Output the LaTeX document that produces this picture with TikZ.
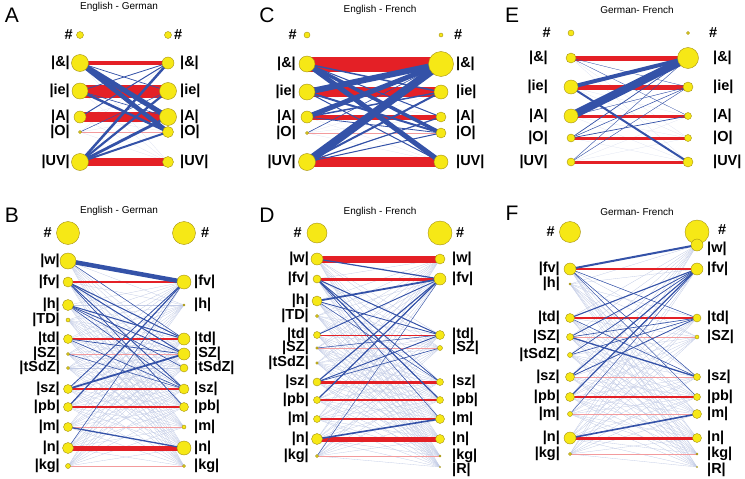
\documentclass[tikz,border=0pt]{standalone}
\usepackage{fontspec}
\setmainfont{Liberation Sans}
\definecolor{tiered}{RGB}{228,32,38}
\definecolor{tieblue}{RGB}{52,82,168}
\definecolor{dotyellow}{RGB}{246,232,22}
\definecolor{dotedge}{RGB}{165,145,20}
\usetikzlibrary{backgrounds}

\begin{document}
\begin{tikzpicture}[x=1pt, y=-1pt,
    dot/.style={circle, draw=dotedge, line width=0.4pt, fill=dotyellow, inner sep=0pt, minimum size=#1},
    phon/.style={font=\fontsize{14.5}{15}\selectfont\bfseries, inner sep=0pt},
    title/.style={font=\fontsize{10}{12}\selectfont},
    panel/.style={font=\fontsize{21}{22}\selectfont},
    tie/.style={draw=tiered, line width=#1},
    faded/.style={draw=tiered!45, line width=#1},
    cross/.style={draw=tieblue, line width=#1},
    mesh/.style={draw=tieblue!30, line width=0.3pt}
]
    \useasboundingbox (0,0) rectangle (745,479);

    % ---------- A: English - German (vowels)
    \node[panel] (pA) at (12,15) {A};
    \node[title] (tA) at (119,7) {English - German};
    \node[dot=7] (A-l-hash) at (80,35) {};
    \node[dot=7] (A-r-hash) at (168,35) {};
    \node[phon, anchor=east] (A-lt-hash) at (73,35) {\#};
    \node[phon, anchor=west] (A-rt-hash) at (174,35) {\#};
    \foreach \n/\y/\d/\t in {amp/63/17/|\&|, ie/91/16/|ie|, A/117/12/|A|, O/132/3/|O|, UV/162/17/|UV|} {
        \node[dot=\d] (A-l-\n) at (80,\y) {};
        \node[phon, anchor=east] (A-lt-\n) at (70,\y) {\t};
    }
    \foreach \n/\y/\d/\t in {amp/63/12/|\&|, ie/91/17/|ie|, A/117/17/|A|, O/132/11/|O|, UV/162/11/|UV|} {
        \node[dot=\d] (A-r-\n) at (168,\y) {};
        \node[phon, anchor=west] (A-rt-\n) at (180,\y) {\t};
    }
    \begin{scope}[on background layer]
        \foreach \a in {amp,ie,A,O,UV}
            \foreach \b in {amp,ie,A,O,UV}
                \draw[mesh, draw=tieblue!15] (A-l-\a.center) -- (A-r-\b.center);
        \foreach \a/\w in {amp/4, ie/13, A/10, UV/8}
            \draw[tie=\w] (A-l-\a.center) -- (A-r-\a.center);
        \draw[faded=0.5] (A-l-O.center) -- (A-r-O.center);
        \foreach \a/\b/\w in {amp/A/5, amp/O/4.5, ie/O/2.5, UV/amp/2.5, UV/ie/2.2, UV/A/2.8,
                              UV/O/2, A/amp/1, ie/amp/0.8, amp/ie/0.7, ie/A/0.6, O/ie/0.5}
            \draw[cross=\w] (A-l-\a.center) -- (A-r-\b.center);
    \end{scope}

    % ---------- C: English - French (vowels)
    \node[panel] (pC) at (267,15) {C};
    \node[title] (tC) at (380,10) {English - French};
    \node[dot=6] (C-l-hash) at (307,35) {};
    \node[dot=4] (C-r-hash) at (441,35) {};
    \node[phon, anchor=east] (C-lt-hash) at (297,35) {\#};
    \node[phon, anchor=west] (C-rt-hash) at (454,35) {\#};
    \foreach \n/\y/\d/\t in {amp/64/16/|\&|, ie/92/16/|ie|, A/117/12/|A|, O/133/3/|O|, UV/162/17/|UV|} {
        \node[dot=\d] (C-l-\n) at (307,\y) {};
        \node[phon, anchor=east] (C-lt-\n) at (296,\y) {\t};
    }
    \foreach \n/\y/\d/\t in {amp/64/25/|\&|, ie/92/14/|ie|, A/117/10/|A|, O/133/10/|O|, UV/162/14/|UV|} {
        \node[dot=\d] (C-r-\n) at (441,\y) {};
        \node[phon, anchor=west] (C-rt-\n) at (456,\y) {\t};
    }
    \begin{scope}[on background layer]
        \foreach \a in {amp,ie,A,O,UV}
            \foreach \b in {amp,ie,A,O,UV}
                \draw[mesh, draw=tieblue!15] (C-l-\a.center) -- (C-r-\b.center);
        \foreach \a/\w in {amp/15, ie/10, A/5, UV/10}
            \draw[tie=\w] (C-l-\a.center) -- (C-r-\a.center);
        \draw[faded=0.5] (C-l-O.center) -- (C-r-O.center);
        \foreach \a/\b/\w in {UV/amp/8, A/amp/5, ie/amp/6, amp/UV/5, amp/O/3.5, ie/O/2,
                              amp/ie/1.5, UV/ie/2, UV/A/1.2, UV/O/1, A/ie/1.5, A/O/0.8,
                              ie/UV/1, amp/A/1, O/amp/0.6}
            \draw[cross=\w] (C-l-\a.center) -- (C-r-\b.center);
    \end{scope}

    % ---------- E: German - French (vowels)
    \node[panel] (pE) at (512,15) {E};
    \node[title] (tE) at (637,10) {German- French};
    \node[dot=6] (E-l-hash) at (571,33) {};
    \node[dot=3] (E-r-hash) at (688,33) {};
    \node[phon, anchor=east] (E-lt-hash) at (551,33) {\#};
    \node[phon, anchor=west] (E-rt-hash) at (709,33) {\#};
    \foreach \n/\y/\d/\t in {amp/58/10/|\&|, ie/87/14/|ie|, A/116/14/|A|, O/138/8/|O|, UV/162/8/|UV|} {
        \node[dot=\d] (E-l-\n) at (571,\y) {};
        \node[phon, anchor=east] (E-lt-\n) at (548,\y) {\t};
    }
    \foreach \n/\y/\d/\t in {amp/58/21/|\&|, ie/87/10/|ie|, A/116/7/|A|, O/138/7/|O|, UV/162/10/|UV|} {
        \node[dot=\d] (E-r-\n) at (688,\y) {};
        \node[phon, anchor=west] (E-rt-\n) at (713,\y) {\t};
    }
    \begin{scope}[on background layer]
        \foreach \a in {amp,ie,A,O,UV}
            \foreach \b in {amp,ie,A,O,UV}
                \draw[mesh, draw=tieblue!15] (E-l-\a.center) -- (E-r-\b.center);
        \foreach \a/\w in {amp/5, ie/5, A/3, O/3, UV/3}
            \draw[tie=\w] (E-l-\a.center) -- (E-r-\a.center);
        \foreach \a/\b/\w in {A/amp/8, ie/amp/4, ie/UV/2, O/amp/0.7, O/A/0.7, UV/amp/0.4,
                              UV/ie/0.4, amp/ie/0.3, amp/A/0.3, O/ie/0.5, A/ie/0.4}
            \draw[cross=\w] (E-l-\a.center) -- (E-r-\b.center);
    \end{scope}

    % ---------- B: English - German (consonants)
    \node[panel] (pB) at (12,215) {B};
    \node[title] (tB) at (119,211) {English - German};
    \node[dot=23] (B-l-hash) at (68,233) {};
    \node[dot=23] (B-r-hash) at (184,233) {};
    \node[phon, anchor=east] (B-lt-hash) at (52,233) {\#};
    \node[phon, anchor=west] (B-rt-hash) at (201,233) {\#};
    \foreach \n/\y/\d/\t in {w/261/16/|w|, fv/282/10/|fv|, h/305/11/|h|, TD/320/4/|TD|, td/339/9/|td|,
                             SZ/354/3/|SZ|, tSdZ/368/3/|tSdZ|, sz/389/9/|sz|, pb/407/9/|pb|,
                             m/427/9/|m|, n/448/11/|n|, kg/466/5/|kg|} {
        \node[dot=\d] (B-l-\n) at (68,\y) {};
        \node[phon, anchor=east] (B-lt-\n) at (60,\y) {\t};
    }
    \foreach \n/\y/\d/\t in {fv/282/14/|fv|, h/305/2/|h|, td/339/12/|td|, SZ/354/12/|SZ|,
                             tSdZ/368/8/|tSdZ|, sz/389/10/|sz|, pb/407/9/|pb|, m/427/4/|m|,
                             n/448/14/|n|, kg/466/3/|kg|} {
        \node[dot=\d] (B-r-\n) at (184,\y) {};
        \node[phon, anchor=west] (B-rt-\n) at (194,\y) {\t};
    }
    \begin{scope}[on background layer]
        \foreach \a in {w,fv,h,TD,td,SZ,tSdZ,sz,pb,m,n,kg}
            \foreach \b in {fv,h,td,SZ,tSdZ,sz,pb,m,n,kg}
                \draw[mesh] (B-l-\a.center) -- (B-r-\b.center);
        \foreach \a/\w in {fv/2, td/1.5, sz/1.5, pb/1.5, n/5}
            \draw[tie=\w] (B-l-\a.center) -- (B-r-\a.center);
        \foreach \a/\w in {SZ/0.7, m/0.9, kg/0.5}
            \draw[faded=\w] (B-l-\a.center) -- (B-r-\a.center);
        \foreach \a/\b/\w in {w/fv/4.5, sz/SZ/1.8, pb/fv/1.2, m/n/1.3, fv/td/1, fv/SZ/1,
                              fv/sz/0.9, fv/pb/0.7, h/td/1, h/SZ/0.8, h/tSdZ/0.6, td/SZ/0.7,
                              sz/fv/0.8, w/td/0.5, td/sz/0.6, h/sz/0.6, n/fv/0.5, SZ/sz/0.5}
            \draw[cross=\w] (B-l-\a.center) -- (B-r-\b.center);
    \end{scope}

    % ---------- D: English - French (consonants)
    \node[panel] (pD) at (267,215) {D};
    \node[title] (tD) at (380,212) {English - French};
    \node[dot=20] (D-l-hash) at (317,233) {};
    \node[dot=24] (D-r-hash) at (440,233) {};
    \node[phon, anchor=east] (D-lt-hash) at (302,233) {\#};
    \node[phon, anchor=west] (D-rt-hash) at (456,233) {\#};
    \foreach \n/\y/\d/\t in {w/259/12/|w|, fv/279/8/|fv|, h/301/10/|h|, TD/316/3/|TD|, td/335/7/|td|,
                             SZ/348/2.5/|SZ|, tSdZ/363/2.5/|tSdZ|, sz/382/8/|sz|, pb/400/7/|pb|,
                             m/419/7/|m|, n/439/11/|n|, kg/456/3/|kg|} {
        \node[dot=\d] (D-l-\n) at (317,\y) {};
        \node[phon, anchor=east] (D-lt-\n) at (309,\y) {\t};
    }
    \foreach \n/\y/\d/\t in {w/259/10/|w|, fv/279/12/|fv|, td/335/9/|td|, SZ/348/5/|SZ|,
                             sz/382/7/|sz|, pb/400/7/|pb|, m/419/9/|m|, n/439/9/|n|,
                             kg/456/2/|kg|} {
        \node[dot=\d] (D-r-\n) at (440,\y) {};
        \node[phon, anchor=west] (D-rt-\n) at (452,\y) {\t};
    }
    \node[dot=1] (D-r-R) at (440,467) {};
    \node[phon, anchor=west] (D-rt-R) at (452,470) {|R|};
    \begin{scope}[on background layer]
        \foreach \a in {w,fv,h,TD,td,SZ,tSdZ,sz,pb,m,n,kg}
            \foreach \b in {w,fv,td,SZ,sz,pb,m,n,kg,R}
                \draw[mesh] (D-l-\a.center) -- (D-r-\b.center);
        \foreach \a/\w in {w/7, fv/3, td/1, sz/3, pb/1.5, m/2.5, n/5}
            \draw[tie=\w] (D-l-\a.center) -- (D-r-\a.center);
        \foreach \a/\w in {SZ/0.5, kg/0.5}
            \draw[faded=\w] (D-l-\a.center) -- (D-r-\a.center);
        \foreach \a/\b/\w in {w/fv/1.2, h/fv/1.8, fv/td/1, fv/pb/1.2, fv/sz/0.8, n/m/1.6,
                              td/fv/0.9, sz/fv/1.1, pb/fv/1.2, sz/td/0.9, h/td/0.8, sz/SZ/0.6,
                              fv/m/0.5, h/sz/0.5, kg/fv/0.4, SZ/td/0.5}
            \draw[cross=\w] (D-l-\a.center) -- (D-r-\b.center);
    \end{scope}

    % ---------- F: German - French (consonants)
    \node[panel] (pF) at (512,213) {F};
    \node[title] (tF) at (637,212) {German- French};
    \node[dot=21] (F-l-hash) at (570,232) {};
    \node[dot=24] (F-r-hash) at (697,232) {};
    \node[phon, anchor=east] (F-lt-hash) at (555,232) {\#};
    \node[phon, anchor=west] (F-rt-hash) at (718,230) {\#};
    \foreach \n/\y/\d/\t in {fv/269/12/|fv|, h/284/2/|h|, td/318/9/|td|, SZ/337/7/|SZ|,
                             tSdZ/355/5/|tSdZ|, sz/377/9/|sz|, pb/397/9/|pb|, m/414/5/|m|,
                             n/438/12/|n|, kg/454/3/|kg|} {
        \node[dot=\d] (F-l-\n) at (570,\y) {};
        \node[phon, anchor=east] (F-lt-\n) at (560,\y) {\t};
    }
    \foreach \n/\y/\d/\t in {fv/269/12/|fv|, td/318/8/|td|, SZ/337/4/|SZ|,
                             sz/377/7/|sz|, pb/397/7/|pb|, m/414/9/|m|, n/438/9/|n|,
                             kg/454/2/|kg|} {
        \node[dot=\d] (F-r-\n) at (697,\y) {};
        \node[phon, anchor=west] (F-rt-\n) at (707,\y) {\t};
    }
    \node[dot=12] (F-r-w) at (697,245) {};
    \node[phon, anchor=west] (F-rt-w) at (707,249) {|w|};
    \node[dot=1] (F-r-R) at (697,467) {};
    \node[phon, anchor=west] (F-rt-R) at (707,470) {|R|};
    \begin{scope}[on background layer]
        \foreach \a in {fv,h,td,SZ,tSdZ,sz,pb,m,n,kg}
            \foreach \b in {w,fv,td,SZ,sz,pb,m,n,kg,R}
                \draw[mesh] (F-l-\a.center) -- (F-r-\b.center);
        \foreach \a/\w in {fv/1.6, td/1.1, pb/1.3, n/3}
            \draw[tie=\w] (F-l-\a.center) -- (F-r-\a.center);
        \foreach \a/\w in {SZ/0.6, sz/0.9, m/0.8, kg/0.5}
            \draw[faded=\w] (F-l-\a.center) -- (F-r-\a.center);
        \foreach \a/\b/\w in {fv/w/2, n/m/1.6, SZ/sz/1.3, td/fv/1.1, sz/fv/1.1, pb/fv/1.2,
                              SZ/fv/0.8, tSdZ/fv/0.7, sz/td/0.8, tSdZ/td/0.6, fv/td/0.5,
                              fv/sz/0.5, td/sz/0.5, SZ/td/0.6, m/fv/0.4, fv/pb/0.4}
            \draw[cross=\w] (F-l-\a.center) -- (F-r-\b.center);
    \end{scope}
\end{tikzpicture}
\end{document}
